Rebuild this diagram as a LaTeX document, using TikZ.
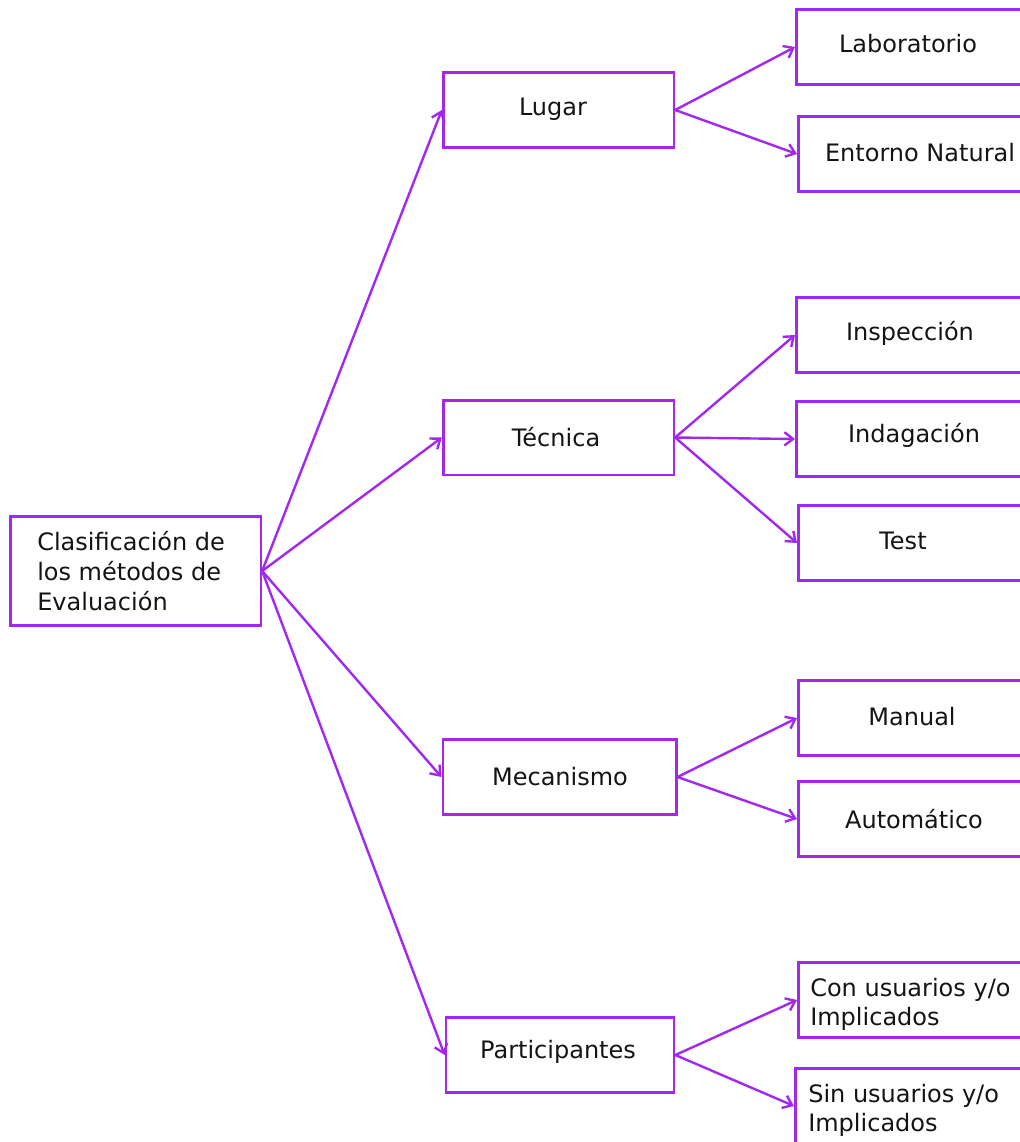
\documentclass[tikz,border=0pt]{standalone}
\usepackage{fontspec}
\setmainfont{DejaVu Sans}
\usetikzlibrary{arrows.meta}
\definecolor{edge}{RGB}{162,40,240}
\begin{document}
\begin{tikzpicture}[x=0.75pt,y=-0.75pt,
  box/.style={draw=edge,line width=2pt,rectangle,inner sep=0pt,
    minimum height=56pt,font=\fontsize{18pt}{22.2pt}\selectfont,text=black!92},
  midbox/.style={box,minimum width=173pt},
  leafbox/.style={box,minimum width=195pt,anchor=west},
  lbl/.style={inner sep=0pt,font=\fontsize{18pt}{22.2pt}\selectfont,text=black!92,align=left},
  conn/.style={draw=edge,line width=1.8pt,-{Straight Barb[length=6.5pt,width=10pt,line width=1.8pt]}}]
\useasboundingbox (0,0) rectangle (1020,1142);
\clip (0,0) rectangle (1020,1142);

% root
\node[box,minimum width=188pt,minimum height=82pt] (root) at (135.5,571) {};
\node[lbl,anchor=west] (roott) at (37,571) {Clasificación de\\los métodos de\\Evaluación};

% second level
\node[midbox] (lugar) at (558.5,110) {};
\node[lbl] (lugart) at (553,109) {Lugar};
\node[midbox] (tecnica) at (558.5,437.5) {};
\node[lbl] (tecnicat) at (556,437) {Técnica};
\node[midbox,minimum width=175pt] (mecanismo) at (559.5,777) {};
\node[lbl] (mecanismot) at (560,777) {Mecanismo};
\node[midbox,minimum width=171pt] (part) at (560,1055) {};
\node[lbl] (partt) at (558,1052) {Participantes};

% leaves (boxes run past the right edge)
\node[leafbox] (lab) at (795,47) {};
\node[lbl] (labt) at (908,44) {Laboratorio};
\node[leafbox] (ent) at (797,154) {};
\node[lbl] (entt) at (920,153) {Entorno Natural};
\node[leafbox] (insp) at (795,335) {};
\node[lbl] (inspt) at (910,333) {Inspección};
\node[leafbox] (inda) at (795,439) {};
\node[lbl] (indat) at (914,435) {Indagación};
\node[leafbox] (test) at (797,543) {};
\node[lbl] (testt) at (903,541) {Test};
\node[leafbox] (man) at (797,718) {};
\node[lbl] (mant) at (912,717) {Manual};
\node[leafbox] (auto) at (797,819) {};
\node[lbl] (autot) at (914,819) {Automático};
\node[leafbox] (con) at (797,1000) {};
\node[lbl,anchor=west] (cont) at (810,1004.5) {Con usuarios y/o\\Implicados};
\node[leafbox] (sin) at (794,1106) {};
\node[lbl,anchor=west] (sint) at (808,1110.5) {Sin usuarios y/o\\Implicados};

% connectors
\path[conn] (root.east) -- (lugar.west);
\path[conn] (root.east) -- (tecnica.west);
\path[conn] (root.east) -- (mecanismo.west);
\path[conn] (root.east) -- (part.west);
\path[conn] (lugar.east) -- (lab.west);
\path[conn] (lugar.east) -- (ent.west);
\path[conn] (tecnica.east) -- (insp.west);
\path[conn] (tecnica.east) -- (inda.west);
\path[conn] (tecnica.east) -- (test.west);
\path[conn] (mecanismo.east) -- (man.west);
\path[conn] (mecanismo.east) -- (auto.west);
\path[conn] (part.east) -- (con.west);
\path[conn] (part.east) -- (sin.west);
\end{tikzpicture}
\end{document}
